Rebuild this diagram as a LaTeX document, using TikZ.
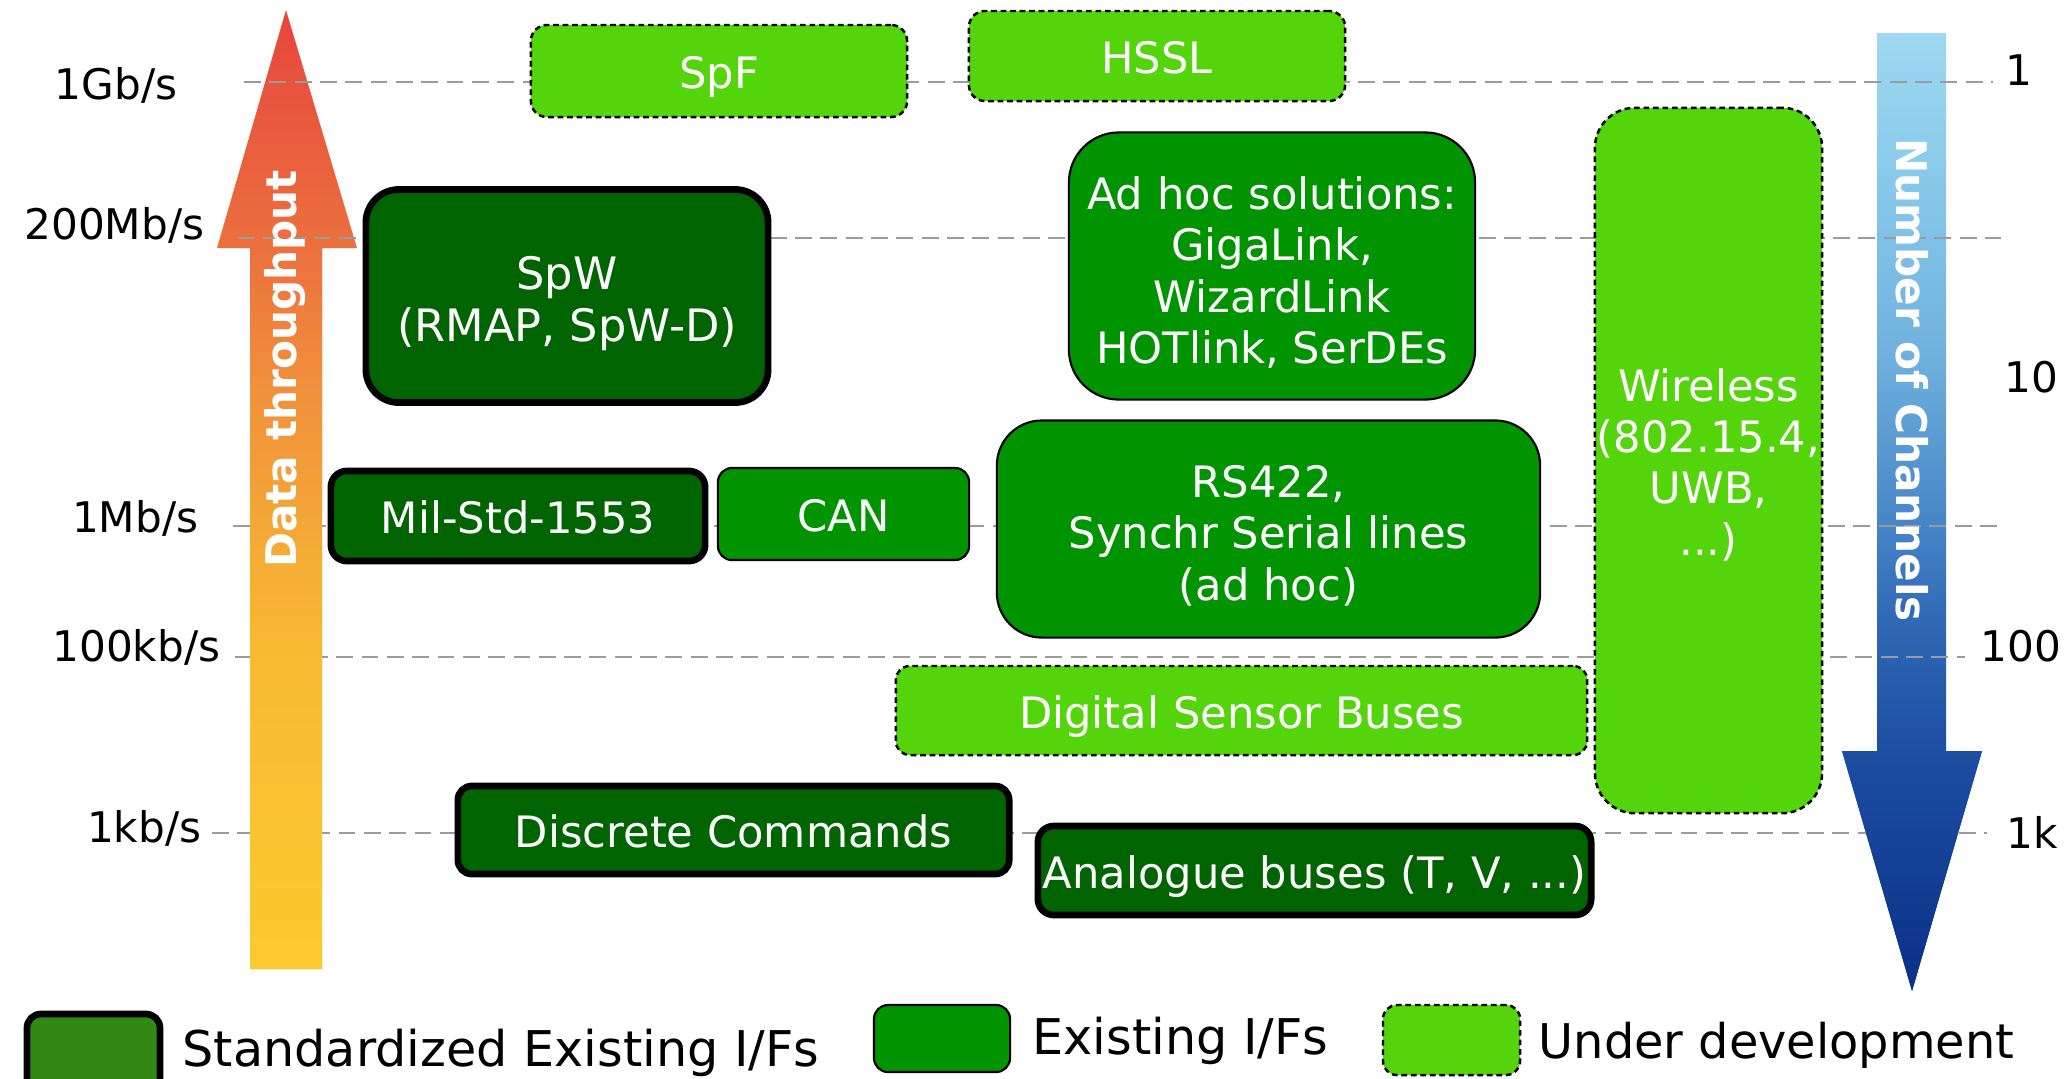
\documentclass[tikz,border=0pt]{standalone}
\usepackage{fontspec}
\setmainfont{DejaVu Sans}
\definecolor{devgreen}{RGB}{84,212,10}
\definecolor{exgreen}{RGB}{0,148,0}
\definecolor{stdgreen}{RGB}{0,100,0}
\definecolor{leggreen}{RGB}{50,136,20}
\definecolor{gridgrey}{RGB}{155,155,155}
% throughput arrow colours, bottom to top
\definecolor{upA}{RGB}{252,202,46}
\definecolor{upB}{RGB}{248,186,50}
\definecolor{upC}{RGB}{245,173,53}
\definecolor{upD}{RGB}{240,142,60}
\definecolor{upE}{RGB}{236,112,62}
\definecolor{upF}{RGB}{230,70,60}
% channel arrow colours, bottom to top
\definecolor{dnA}{RGB}{10,48,135}
\definecolor{dnB}{RGB}{28,78,162}
\definecolor{dnC}{RGB}{48,105,182}
\definecolor{dnD}{RGB}{75,140,202}
\definecolor{dnE}{RGB}{112,178,222}
\definecolor{dnF}{RGB}{140,205,236}
\definecolor{dnG}{RGB}{158,216,241}
\pgfdeclareverticalshading{rateshade}{100bp}{color(0bp)=(upA); color(25bp)=(upA);
  color(41.3bp)=(upB); color(46.2bp)=(upC); color(56bp)=(upD); color(62.6bp)=(upE);
  color(75bp)=(upF); color(100bp)=(upF)}
\pgfdeclareverticalshading{chanshade}{100bp}{color(0bp)=(dnA); color(25bp)=(dnA);
  color(37.5bp)=(dnB); color(44.4bp)=(dnC); color(50.6bp)=(dnD); color(58.4bp)=(dnE);
  color(68.9bp)=(dnF); color(75bp)=(dnG); color(100bp)=(dnG)}
\tikzset{
  ifshape/.style={rectangle, inner sep=0pt},
  stdbox/.style={ifshape, fill=stdgreen, draw=black, line width=1.9pt},
  exbox/.style={ifshape, fill=exgreen, draw=black, line width=0.6pt},
  devbox/.style={ifshape, fill=devgreen, draw=black, line width=0.7pt,
                 dash pattern=on 1.6pt off 1.1pt},
  oneline/.style={text=white, inner sep=0pt, anchor=base,
                  font=\fontsize{12.3}{14.6}\selectfont},
  multiline/.style={text=white, inner sep=0pt, align=center,
                    font=\fontsize{12.3}{14.6}\selectfont},
  ratelbl/.style={font=\fontsize{12}{14}\selectfont, anchor=base east, inner sep=0pt},
  chanlbl/.style={font=\fontsize{12}{14}\selectfont, anchor=base west, inner sep=0pt},
  rateline/.style={draw=gridgrey, line width=0.8pt, dash pattern=on 4.8pt off 2.4pt},
  axistext/.style={text=white, inner sep=0pt, font=\bfseries\fontsize{12}{14}\selectfont},
  legtext/.style={font=\fontsize{14}{16}\selectfont, anchor=base west, inner sep=0pt},
}
\begin{document}
\begin{tikzpicture}[x=0.01cm, y=-0.01cm]
\useasboundingbox (0,0) rectangle (2067,1078);

% axis arrows
\def\ratearrow{(250,969) -- (250,248) -- (217,248) -- (286,10) -- (357,248)
  -- (322,248) -- (322,969) -- cycle}
\def\chanarrow{(1877,33) -- (1946,33) -- (1946,751) -- (1982,751) -- (1912,991)
  -- (1842,751) -- (1877,751) -- cycle}
\shade[shading=rateshade] \ratearrow;
\shade[shading=chanshade] \chanarrow;

% rate guide lines
\draw[rateline] (244,82) -- (1993,82);
\draw[rateline] (238,238) -- (2001,238);
\draw[rateline] (233,526) -- (1997,526);
\draw[rateline] (235,657) -- (1965,657);
\draw[rateline] (212,833) -- (1987,833);

% the throughput shaft and the channel head lie over the guide lines
\begin{scope}
  \clip (240,248) rectangle (330,975);
  \shade[shading=rateshade] \ratearrow;
\end{scope}
\begin{scope}
  \clip (1835,751) rectangle (1990,995);
  \shade[shading=chanshade] \chanarrow;
\end{scope}

% rate labels
\node[ratelbl] (r1g)   at (178,99)  {1Gb/s};
\node[ratelbl] (r200m) at (205,239) {200Mb/s};
\node[ratelbl] (r1m)   at (199,532) {1Mb/s};
\node[ratelbl] (r100k) at (221,661) {100kb/s};
\node[ratelbl] (r1k)   at (202,842) {1kb/s};

% channel labels
\node[chanlbl] (c1)    at (2005,85)  {1};
\node[chanlbl] (c10)   at (2004,392) {10};
\node[chanlbl] (c100)  at (1980,661) {100};
\node[chanlbl] (c1k)   at (2006,848) {1k};

% interface boxes
\node[devbox, rounded corners=0.16cm, minimum width=3.76cm, minimum height=0.92cm]
  (spf) at (719,71) {};
\node[devbox, rounded corners=0.16cm, minimum width=3.76cm, minimum height=0.90cm]
  (hssl) at (1157,56) {};
\node[stdbox, rounded corners=0.33cm, minimum width=4.02cm, minimum height=2.13cm]
  (spw) at (567,296) {};
\node[exbox, rounded corners=0.5cm, minimum width=4.06cm, minimum height=2.67cm]
  (adhoc) at (1272,266) {};
\node[devbox, rounded corners=0.4cm, minimum width=2.27cm, minimum height=7.05cm]
  (wless) at (1708.5,460.5) {};
\node[stdbox, rounded corners=0.16cm, minimum width=3.74cm, minimum height=0.90cm]
  (mil) at (518,516) {};
\node[exbox, rounded corners=0.14cm, minimum width=2.51cm, minimum height=0.92cm]
  (can) at (843.5,514) {};
\node[exbox, rounded corners=0.45cm, minimum width=5.43cm, minimum height=2.17cm]
  (rs422) at (1268.5,529) {};
\node[devbox, rounded corners=0.14cm, minimum width=6.91cm, minimum height=0.89cm]
  (dsb) at (1241.5,710.5) {};
\node[stdbox, rounded corners=0.14cm, minimum width=5.51cm, minimum height=0.88cm]
  (disc) at (733.5,830) {};
\node[stdbox, rounded corners=0.16cm, minimum width=5.53cm, minimum height=0.89cm]
  (analog) at (1314.5,870.5) {};

% interface names
\node[oneline] (spf-t)    at ([yshift=-0.176cm]spf.center)    {SpF};
\node[oneline] (hssl-t)   at ([yshift=-0.176cm]hssl.center)   {HSSL};
\node[oneline] (mil-t)    at ([yshift=-0.176cm]mil.center)    {Mil-Std-1553};
\node[oneline] (can-t)    at ([yshift=-0.176cm]can.center)    {CAN};
\node[oneline] (dsb-t)    at ([yshift=-0.176cm]dsb.center)    {Digital Sensor Buses};
\node[oneline] (disc-t)   at ([yshift=-0.176cm]disc.center)   {Discrete Commands};
\node[oneline] (analog-t) at ([yshift=-0.176cm]analog.center) {Analogue buses (T, V, ...)};
\node[multiline, font=\fontsize{12.7}{15}\selectfont]
  (spw-t)   at ([yshift=-0.075cm]spw.center)   {SpW\\(RMAP, SpW-D)};
\node[multiline] (adhoc-t) at ([yshift=-0.065cm]adhoc.center)
  {Ad hoc solutions:\\GigaLink,\\WizardLink\\HOTlink, SerDEs};
\node[multiline] (rs422-t) at ([yshift=-0.065cm]rs422.center)
  {RS422,\\Synchr Serial lines\\(ad hoc)};
\node[multiline] (wless-t) at ([yshift=-0.04cm]wless.center)
  {Wireless\\(802.15.4,\\UWB,\\...)};

% axis titles
\node[axistext, rotate=90]  (dtp) at (285,369) {Data throughput};
\node[axistext, rotate=-90] (noc) at (1912,380) {Number of Channels};

% legend
\node[stdbox, fill=leggreen, rounded corners=0.14cm, minimum width=1.33cm, minimum height=0.79cm]
  (lgstd) at (93.5,1053.5) {};
\node[legtext] (lgstdt) at (182,1066) {Standardized Existing I/Fs};
\node[exbox, rounded corners=0.14cm, minimum width=1.36cm, minimum height=0.67cm]
  (lgex) at (942,1038.5) {};
\node[legtext] (lgext) at (1032,1054) {Existing I/Fs};
\node[devbox, rounded corners=0.14cm, minimum width=1.37cm, minimum height=0.70cm]
  (lgdev) at (1451.5,1040) {};
\node[legtext, font=\fontsize{13.6}{16}\selectfont] (lgdevt) at (1538,1058) {Under development};
\end{tikzpicture}
\end{document}
